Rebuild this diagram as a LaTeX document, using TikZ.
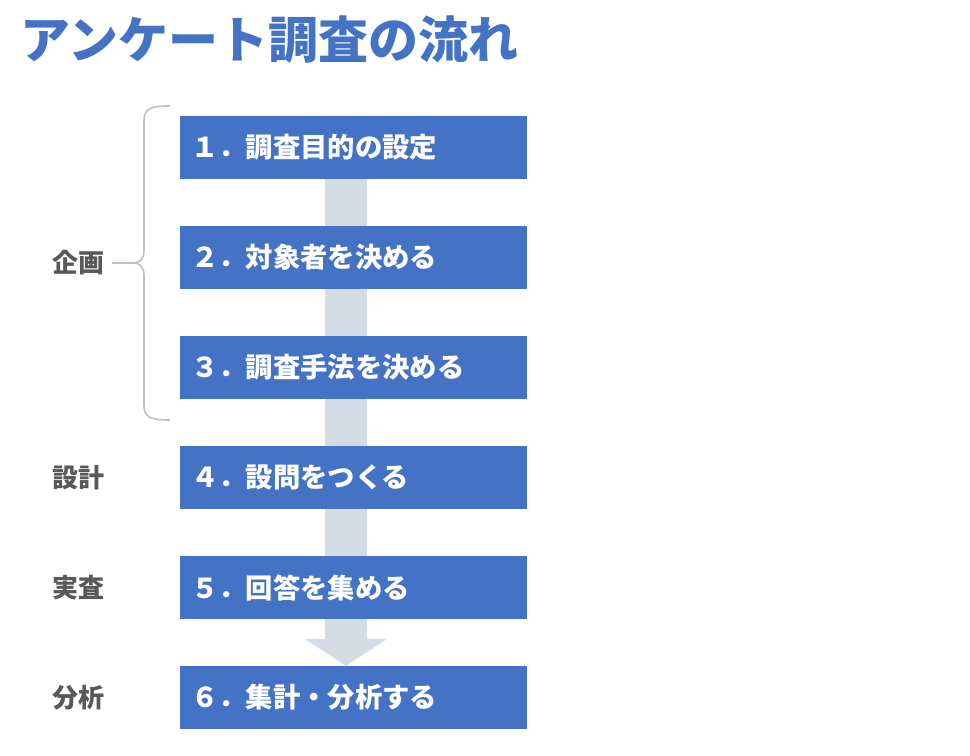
\documentclass[tikz,border=0pt]{standalone}
\usepackage{fontspec}
\setmainfont{Noto Sans CJK JP}
\usetikzlibrary{positioning}
\definecolor{stageblue}{HTML}{4472C4}
\definecolor{flowgray}{HTML}{D6DCE5}
\definecolor{phasegray}{HTML}{595959}
\definecolor{bracegray}{HTML}{BFBFBF}

\begin{document}
\begin{tikzpicture}[x=0.75pt,y=-0.75pt,node distance=35.25pt,
  stage box/.style={rectangle,fill=stageblue,text=white,font=\bfseries\fontsize{20.5pt}{24pt}\selectfont,text width=243.75pt,inner xsep=8.25pt,inner ysep=0pt,outer sep=0pt,minimum height=47.25pt,align=left},
  phase/.style={text=phasegray,font=\bfseries\fontsize{19.5pt}{24pt}\selectfont,inner sep=0pt},
  brace line/.style={draw=bracegray,line width=1.2pt}]

            \useasboundingbox (0,0) rectangle (970,756);

            % flow arrow behind the stages
            \fill[flowgray] (325,170) -- (367,170) -- (367,639) -- (387,639) -- (346,666) -- (305,639) -- (325,639) -- cycle;

            \node[anchor=west,inner sep=0pt,text=stageblue,font=\bfseries\fontsize{37.5pt}{40pt}\selectfont] (title) at (20,40) {アンケート調査の流れ};

            \node[stage box,anchor=north west] (1) at (180,116) {１．調査目的の設定};
            \node[stage box] (2) [below=of 1] {２．対象者を決める};
            \node[stage box] (3) [below=of 2] {３．調査手法を決める};
            \node[stage box] (4) [below=of 3] {４．設問をつくる};
            \node[stage box] (5) [below=of 4] {５．回答を集める};
            \node[stage box] (6) [below=of 5] {６．集計・分析する};

            \coordinate (tip) at (133,263);
            \node[phase] (plan) [left=21pt of tip] {企画};
            \node[phase] (design) [left=56.25pt of 4] {設計};
            \node[phase] (field) [left=56.25pt of 5] {実査};
            \node[phase] (analysis) [left=56.25pt of 6] {分析};

            \draw[brace line] (170,106) .. controls (152,106) and (144,108) .. (144,120) -- (144,250)
                .. controls (144,259) and (140,263) .. (tip)
                .. controls (140,263) and (144,267) .. (144,276) -- (144,406)
                .. controls (144,418) and (152,420) .. (170,420);
            \draw[brace line,shorten >=5pt] (tip) -- (plan.east);
        \end{tikzpicture}
\end{document}
